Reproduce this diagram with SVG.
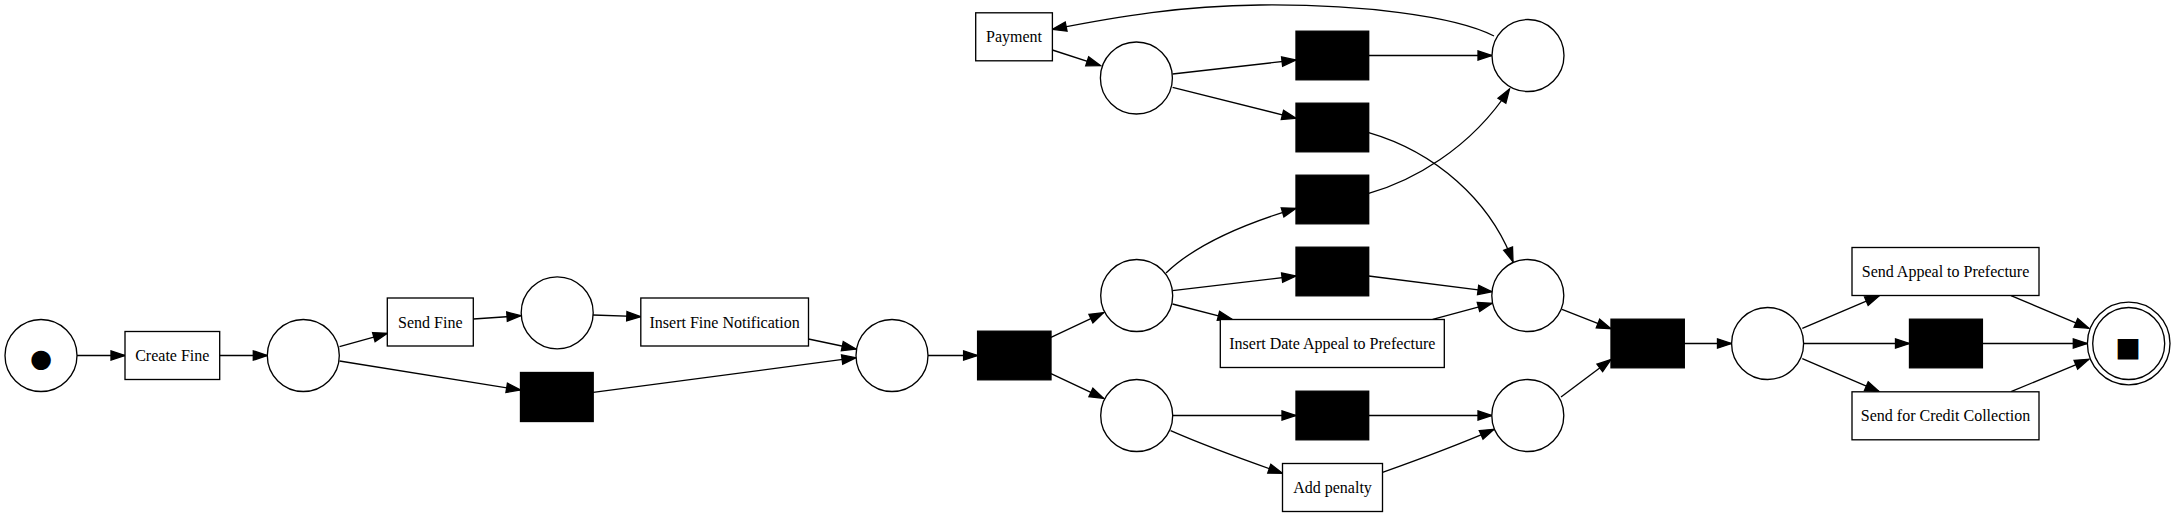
<svg xmlns="http://www.w3.org/2000/svg" width="2175" height="517" viewBox="0 0 2175 517">
<style>
.pl{fill:#fff;stroke:#000;stroke-width:1.33}
.tr{fill:#fff;stroke:#000;stroke-width:1.33}
.si{fill:#000;stroke:#000;stroke-width:1.33}
.lb{font-family:"Liberation Serif","Times New Roman",serif;font-size:16px;text-anchor:middle;fill:#000}
.tk{font-family:"Liberation Serif","DejaVu Sans",serif;text-anchor:middle;fill:#000}
.e path{fill:none;stroke:#000;stroke-width:1.33;marker-end:url(#ah)}
</style>
<defs>
<marker id="ah" markerUnits="userSpaceOnUse" markerWidth="16" markerHeight="12" refX="14" refY="5" orient="auto" overflow="visible">
<path d="M0,0.3 L14,5 L0,9.7 Z" fill="#000" stroke="#000" stroke-width="1.33"/>
</marker>
</defs>
<rect width="2175" height="517" fill="#fff"/>
<g class="e" id="edges">
<path d="M77,355.5 L125,355.5"/>
<path d="M219.7,355.5 L267.3,355.5"/>
<path d="M339.5,346.7 L387.3,333.3"/>
<path d="M339.5,361 L520.5,390"/>
<path d="M473.4,319 L521,315.7"/>
<path d="M593,315 L640.8,316.7"/>
<path d="M808.5,339 L856,349"/>
<path d="M593.2,392.3 L856,357.7"/>
<path d="M928,355.5 L977.6,355.5"/>
<path d="M1051,337.3 L1103.6,312.7"/>
<path d="M1051,373.7 L1103.6,398.3"/>
<path d="M1052.4,50 L1100.5,65.7"/>
<path d="M1172.6,74 L1296,60"/>
<path d="M1172.6,87.3 L1296,118.3"/>
<path d="M1368.7,55.5 L1492,55.5"/>
<path d="M1494,36 C1455,16 1360,4 1260,5 C1180,6 1120,16 1052.4,29.3"/>
<path d="M1368.7,132.7 C1435,152 1490,200 1513,261.7"/>
<path d="M1368.7,193.3 C1410,182 1470,150 1509.5,89"/>
<path d="M1166,273 C1195,245 1240,225 1296,208.3"/>
<path d="M1172.5,290.7 L1296,276"/>
<path d="M1172.5,304 L1232,319.3"/>
<path d="M1368.7,276 L1492,291.7"/>
<path d="M1432.7,319.3 L1492,303.3"/>
<path d="M1172.7,415.5 L1296,415.5"/>
<path d="M1170.6,430.7 C1210,448 1250,462 1282.5,473.3"/>
<path d="M1368.7,415.5 L1492,415.5"/>
<path d="M1382.5,472.3 C1420,459 1460,444 1494,429.3"/>
<path d="M1562,309.3 L1611,328.7"/>
<path d="M1561,397 L1611,359.5"/>
<path d="M1684.3,343.5 L1731.5,343.5"/>
<path d="M1802.3,328.3 L1879.2,295.7"/>
<path d="M1803.9,343.5 L1909.5,343.5"/>
<path d="M1802.3,358.7 L1879.2,391.7"/>
<path d="M2011,295.7 L2088.8,328.3"/>
<path d="M1982.4,343.5 L2087.3,343.5"/>
<path d="M2011,391.7 L2088.8,359.3"/>
</g>
<g id="start"><circle class="pl" cx="41" cy="355.5" r="36"/><text class="tk" x="41" y="373" font-size="45">●</text></g>
<g id="createFine"><rect class="tr" x="125" y="331.5" width="94.7" height="48"/><text class="lb" x="172.3" y="361">Create Fine</text></g>
<g id="p1"><circle class="pl" cx="303.3" cy="355.5" r="36"/></g>
<g id="sendFine"><rect class="tr" x="387.3" y="298" width="86" height="48"/><text class="lb" x="430.3" y="327.5">Send Fine</text></g>
<g id="p2"><circle class="pl" cx="557.2" cy="312.8" r="36"/></g>
<g id="t1"><rect class="si" x="520.5" y="372.5" width="72.7" height="49"/></g>
<g id="insertFineNotification"><rect class="tr" x="640.8" y="298" width="167.7" height="48"/><text class="lb" x="724.6" y="327.5">Insert Fine Notification</text></g>
<g id="p3"><circle class="pl" cx="892" cy="355.5" r="36"/></g>
<g id="t2"><rect class="si" x="977.6" y="331.2" width="73.4" height="48.6"/></g>
<g id="payment"><rect class="tr" x="975.7" y="12.8" width="76.7" height="48"/><text class="lb" x="1014" y="42.3">Payment</text></g>
<g id="p4"><circle class="pl" cx="1136.4" cy="78" r="36"/></g>
<g id="tA"><rect class="si" x="1296" y="31.2" width="72.7" height="48.6"/></g>
<g id="tB"><rect class="si" x="1296" y="103.2" width="72.7" height="48.6"/></g>
<g id="tC"><rect class="si" x="1296" y="175.2" width="72.7" height="48.6"/></g>
<g id="tD"><rect class="si" x="1296" y="247.2" width="72.7" height="48.6"/></g>
<g id="p5"><circle class="pl" cx="1528" cy="55.5" r="36"/></g>
<g id="p6"><circle class="pl" cx="1136.7" cy="295.5" r="36"/></g>
<g id="insertDateAppeal"><rect class="tr" x="1220.3" y="319.5" width="224" height="48"/><text class="lb" x="1332.3" y="349">Insert Date Appeal to Prefecture</text></g>
<g id="p7"><circle class="pl" cx="1527.8" cy="295.5" r="36"/></g>
<g id="p8"><circle class="pl" cx="1136.7" cy="415.5" r="36"/></g>
<g id="tE"><rect class="si" x="1296" y="391.2" width="72.7" height="48.6"/></g>
<g id="addPenalty"><rect class="tr" x="1282.5" y="463.5" width="100" height="48"/><text class="lb" x="1332.5" y="493">Add penalty</text></g>
<g id="p9"><circle class="pl" cx="1527.8" cy="415.5" r="36"/></g>
<g id="tF"><rect class="si" x="1611" y="319.2" width="73.3" height="48.6"/></g>
<g id="p10"><circle class="pl" cx="1767.6" cy="343.5" r="36"/></g>
<g id="sendAppeal"><rect class="tr" x="1852" y="247.5" width="187" height="48"/><text class="lb" x="1945.5" y="277">Send Appeal to Prefecture</text></g>
<g id="tG"><rect class="si" x="1909.5" y="319.2" width="72.9" height="48.6"/></g>
<g id="sendCredit"><rect class="tr" x="1852" y="391.8" width="187" height="48"/><text class="lb" x="1945.5" y="421.3">Send for Credit Collection</text></g>
<g id="end"><circle class="pl" cx="2128.7" cy="343.5" r="41.3"/><circle class="pl" cx="2128.7" cy="343.5" r="36"/><text class="tk" x="2128.2" y="362" font-size="42.7">■</text></g>
</svg>
